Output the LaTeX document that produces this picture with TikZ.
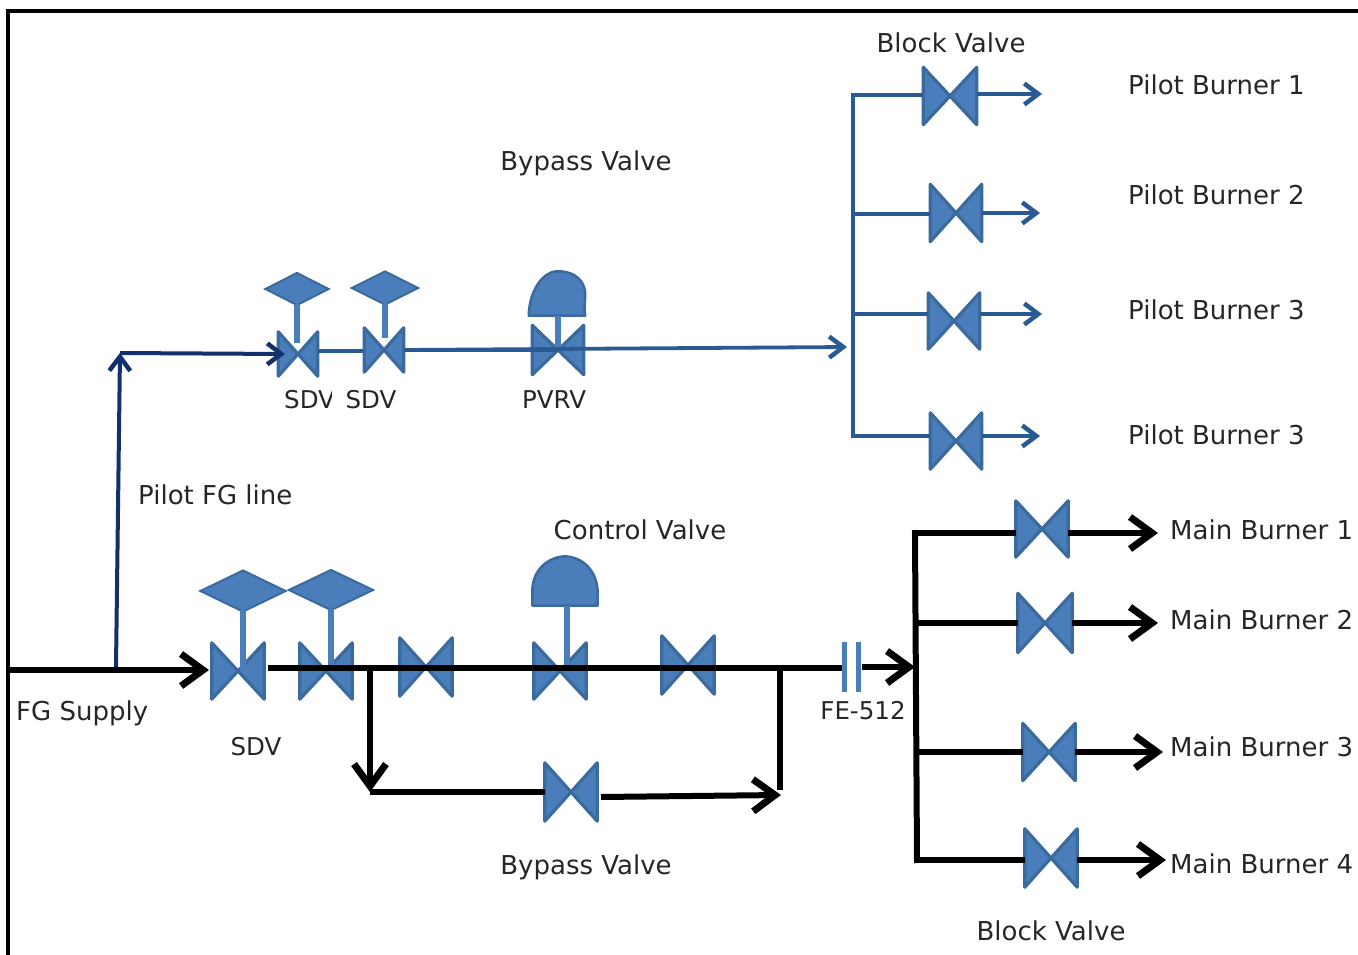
\documentclass[tikz,border=0pt]{standalone}
\usepackage{fontspec}
\setmainfont{DejaVu Sans}
\usetikzlibrary{arrows.meta,shapes.geometric,calc}
\definecolor{vfill}{HTML}{4A7EBB}
\definecolor{vedge}{HTML}{3A6A9E}
\definecolor{pipeblue}{HTML}{2A5A93}
\definecolor{navy}{HTML}{12306B}
\tikzset{
 x=1pt,y=-1pt,
 lab/.style={font=\fontsize{26}{30}\selectfont,text=black!85,inner sep=0pt},
 labcap/.style={font=\fontsize{24.5}{28}\selectfont,text=black!85,inner sep=0pt},
 labl/.style={lab,anchor=west},
 valveface/.style={fill=vfill,draw=vedge,line width=3.2pt,line join=round},
 bluepipe/.style={draw=pipeblue,line width=3.8pt},
 navypipe/.style={draw=navy,line width=4pt},
 blackpipe/.style={draw=black,line width=6pt},
 bluearrow/.style={bluepipe,-{Straight Barb[length=14pt,width=21pt,line width=4.5pt]}},
 navyarrow/.style={navypipe,-{Straight Barb[length=14pt,width=21pt,line width=4.5pt]}},
 blackarrow/.style={blackpipe,-{Straight Barb[length=22pt,width=32pt,line width=7pt]}},
 stem/.style={draw=vfill,line width=6pt},
 actdiamond/.style={diamond,aspect=2,inner sep=0pt,fill=vfill,draw=vedge,line width=2pt},
 bar/.style={draw=vfill,line width=5pt},
}
% name, x, y, width, height
\newcommand{\valvesym}[5]{%
 \node[inner sep=0pt,minimum width=#4pt,minimum height=#5pt] (#1) at (#2,#3) {};
 \draw[valveface] (#1.north west) -- (#1.south east) -- (#1.north east) -- (#1.south west) -- cycle;
}
\begin{document}
\begin{tikzpicture}
\useasboundingbox (0,0) rectangle (1358,955);
\fill[white] (0,0) rectangle (1358,955);
\coordinate (fa) at (8,955); \coordinate (fb) at (8,11); \coordinate (fc) at (1358,11);
\draw[line width=3.5pt,black] (fa) -- (fb) -- (fc);

% ----- valves -----
\valvesym{pv1}{950}{96}{53}{57}
\valvesym{pv2}{956}{213}{51}{57}
\valvesym{pv3}{954}{321}{51}{56}
\valvesym{pv4}{956}{441}{51}{56}
\valvesym{mv1}{1042}{529}{52}{56}
\valvesym{mv2}{1045}{623}{54}{59}
\valvesym{mv3}{1049}{752}{52}{57}
\valvesym{mv4}{1051}{858}{52}{58}
\valvesym{sd1}{238}{671}{52}{56}
\valvesym{sd2}{326}{671}{52}{56}
\valvesym{hv1}{426}{667}{52}{58}
\valvesym{cv}{560}{671}{52}{56}
\valvesym{hv2}{688}{665}{52}{58}
\valvesym{byv}{571}{792}{52}{58}
\valvesym{ts1}{298}{354}{39}{44}
\valvesym{ts2}{384}{350}{39}{44}
\valvesym{pvrv}{558}{350}{51}{49}

% ----- actuators -----
\coordinate (st1) at (243,670); \coordinate (st2) at (331,668);
\coordinate (st3) at (297,343); \coordinate (st4) at (385,338);
\coordinate (st5) at (567,668); \coordinate (st6) at (558,350);
\node[actdiamond,minimum width=86pt,minimum height=42pt] (da1) at (243,591) {};
\node[actdiamond,minimum width=85pt,minimum height=41pt] (da2) at (331,590) {};
\node[actdiamond,minimum width=64pt,minimum height=33pt] (da3) at (297,289) {};
\node[actdiamond,minimum width=67pt,minimum height=34pt] (da4) at (385,288) {};
\node[inner sep=0pt,minimum width=65pt,minimum height=49pt] (dm1) at (565,581) {};
\node[inner sep=0pt,minimum width=56pt,minimum height=44pt] (dm2) at (557,293.5) {};
\draw[valveface,line width=2.5pt] (dm1.south west) -- (dm1.west |- 0,592)
  .. controls (532,570) and (548,557) .. (dm1.north)
  .. controls (582,557) and (597,570) .. (dm1.east |- 0,592) -- (dm1.south east) -- cycle;
\draw[valveface,line width=2.5pt] (dm2.south west)
  .. controls (529,292) and (542,272) .. (dm2.north)
  .. controls (577,271) and (585,283) .. (dm2.east)
  .. controls (585,302) and (584,310) .. (dm2.south east) -- cycle;
\draw[stem] ($(da1.south)+(0,-3)$) -- (st1);
\draw[stem] ($(da2.south)+(0,-3)$) -- (st2);
\draw[stem] ($(da3.south)+(0,-3)$) -- (st3);
\draw[stem] ($(da4.south)+(0,-3)$) -- (st4);
\draw[stem] (dm1.south -| st5) -- (st5);
\draw[stem] (dm2.south -| st6) -- (st6);

% ----- pilot pipework -----
\coordinate (ptop) at (853,95); \coordinate (pbot) at (853,436);
\coordinate (p2) at (853,214); \coordinate (p3) at (853,314);
\coordinate (pe1) at (1042,94); \coordinate (pe2) at (1040,213);
\coordinate (pe3) at (1042,314); \coordinate (pe4) at (1040,436);
\draw[bluepipe,line cap=rect] (ptop) -- (pbot);
\draw[bluepipe] (ptop) -- (ptop -| pv1.west);
\draw[bluepipe] (p2) -- (p2 -| pv2.west);
\draw[bluepipe] (p3) -- (p3 -| pv3.west);
\draw[bluepipe] (pbot) -- (pbot -| pv4.west);
\draw[bluearrow] (pv1.east |- pe1) -- (pe1);
\draw[bluearrow] (pv2.east |- pe2) -- (pe2);
\draw[bluearrow] (pv3.east |- pe3) -- (pe3);
\draw[bluearrow] (pv4.east |- pe4) -- (pe4);
\coordinate (tl1) at (318,351); \coordinate (tl2) at (363,351);
\coordinate (tl3) at (404,350); \coordinate (tl4) at (847,347);
\draw[bluepipe] (tl1) -- (tl2);
\draw[bluepipe,shorten >=0pt] (tl3) -- (pvrv.center);
\draw[bluearrow] (tl3) -- (tl4);

% ----- pilot FG line -----
\coordinate (n0) at (116,667); \coordinate (n1) at (120,353); \coordinate (n2) at (285,354);
\draw[navyarrow] (n0) -- (n1);
\draw[navyarrow] (n1) -- (n2);

% ----- main pipework -----
\coordinate (s0) at (10,670); \coordinate (s1) at (209,670);
\draw[blackarrow] (s0) -- (s1);
\coordinate (h0) at (268,668); \coordinate (h1) at (844,668);
\draw[blackpipe] (h0) -- (h1);
\node[inner sep=0pt,minimum width=13pt,minimum height=50pt] (fe) at (851.5,667) {};
\draw[bar] (fe.north west) -- (fe.south west);
\draw[bar] (fe.north east) -- (fe.south east);
\coordinate (h2) at (862,667); \coordinate (h3) at (915,667);
\draw[blackarrow] (h2) -- (h3);
% bypass
\coordinate (b0) at (370,668); \coordinate (b1) at (370,792);
\coordinate (b2) at (601,797); \coordinate (b3) at (781,795);
\coordinate (b4) at (780,668); \coordinate (b5) at (780,790);
\draw[blackarrow] (b0) -- (b1);
\draw[blackpipe] (b1) -- (byv.west |- b1);
\draw[blackarrow] (b2) -- (b3);
\draw[blackpipe] (b4) -- (b5);
% main burner trunk
\coordinate (m1) at (915,533); \coordinate (m2) at (915,623);
\coordinate (m3) at (917,752); \coordinate (m4) at (917,860);
\coordinate (me1) at (1158,533); \coordinate (me2) at (1158,623);
\coordinate (me3) at (1163,752); \coordinate (me4) at (1166,860);
\draw[blackpipe,line cap=rect] (m1) -- (m4);
\draw[blackpipe] (m1) -- (m1 -| mv1.west);
\draw[blackpipe] (m2) -- (m2 -| mv2.west);
\draw[blackpipe] (m3) -- (m3 -| mv3.west);
\draw[blackpipe] (m4) -- (m4 -| mv4.west);
\draw[blackarrow] (mv1.east |- me1) -- (me1);
\draw[blackarrow] (mv2.east |- me2) -- (me2);
\draw[blackarrow] (mv3.east |- me3) -- (me3);
\draw[blackarrow] (mv4.east |- me4) -- (me4);

% ----- labels -----
\node[lab] (l1) at (951,43) {Block Valve};
\node[labl] (l2) at (1128,85) {Pilot Burner 1};
\node[labl] (l3) at (1128,195) {Pilot Burner 2};
\node[labl] (l4) at (1128,310) {Pilot Burner 3};
\node[labl] (l5) at (1128,435) {Pilot Burner 3};
\node[lab] (l6) at (586,163) {Bypass Valve};
\begin{scope}
\clip (270,380) rectangle (331,420);
\node[labcap,anchor=west] (l7) at (284,400) {SDV};
\end{scope}
\node[labcap] (l8) at (371,400) {SDV};
\node[labcap] (l9) at (554,400) {PVRV};
\node[labl] (l10) at (138,495) {Pilot FG line};
\node[lab] (l11) at (640,530) {Control Valve};
\node[labl] (l12) at (1170,530) {Main Burner 1};
\node[labl] (l13) at (1170,620) {Main Burner 2};
\node[labl] (l14) at (1170,747) {Main Burner 3};
\node[labl] (l15) at (1170,864) {Main Burner 4};
\node[labl] (l16) at (16,713) {FG Supply};
\node[labcap] (l17) at (256,747) {SDV};
\node[labcap] (l18) at (863,711) {FE-512};
\node[lab] (l19) at (586,867) {Bypass Valve};
\node[lab] (l20) at (1051,931) {Block Valve};
\end{tikzpicture}
\end{document}
